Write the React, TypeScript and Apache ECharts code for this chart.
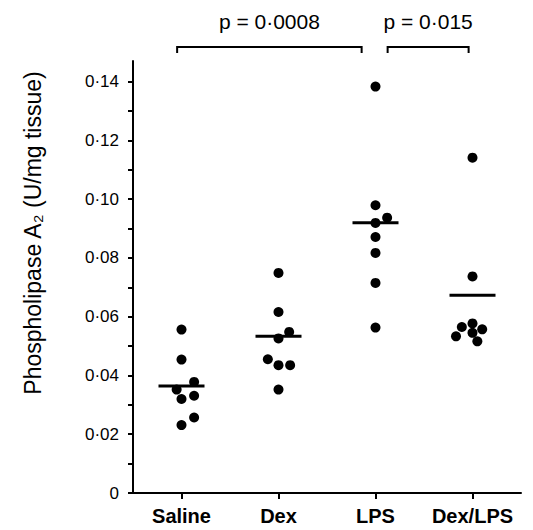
import React, { useEffect, useRef } from "react";
import * as echarts from "echarts";

const categories = ["Saline", "Dex", "LPS", "Dex/LPS"];

// [x offset within group (category units), value]
const salinePoints = [[0, 0.0556], [0, 0.0454], [0.13, 0.0378], [-0.05, 0.0352], [0.13, 0.0331], [0, 0.032], [0.13, 0.0257], [0, 0.0231]];
const dexPoints = [[0, 0.0749], [0, 0.0616], [0.11, 0.0548], [0, 0.0526], [-0.11, 0.0455], [0, 0.0435], [0.12, 0.0435], [0, 0.0352]];
const lpsPoints = [[0, 0.1383], [0, 0.0979], [0.12, 0.0937], [0, 0.0919], [0, 0.0871], [0, 0.0817], [0, 0.0715], [0, 0.0563]];
const dexLpsPoints = [[0, 0.1141], [0, 0.0737], [-0.11, 0.0565], [0, 0.0577], [0.1, 0.0557], [0, 0.0545], [-0.17, 0.0533], [0.05, 0.0516]];
const groupPoints = [salinePoints, dexPoints, lpsPoints, dexLpsPoints];

const meanValues = [0.0364, 0.0533, 0.092, 0.0673];

const bracketStarts = [-0.045, 2.125];
const bracketEnds = [1.857, 2.96];
const bracketLevel = 0.1518;
const bracketLabels = ["p = 0·0008", "p = 0·015"];

const yMin = 0;
const yMax = 0.147;
const yInterval = 0.01;

const FONT = "'Liberation Sans', Arial, Helvetica, sans-serif";

export default function App() {
  const ref = useRef<HTMLDivElement>(null);
  useEffect(() => {
    document.body.style.margin = "0";
    if (!ref.current) return;
    const chart = echarts.init(ref.current, null, { renderer: "svg" });

    const dotData: number[][] = [];
    groupPoints.forEach((pts, gi) => {
      pts.forEach(([dx, v]) => dotData.push([gi + dx, v]));
    });
    const meanData = meanValues.map((v, i) => [i, v]);
    const bracketData = bracketStarts.map((s, i) => [s, bracketEnds[i], bracketLevel]);

    chart.setOption({
      animation: false,
      backgroundColor: "#ffffff",
      textStyle: { fontFamily: FONT },
      grid: { left: 133, right: 12, top: 61, bottom: 37, containLabel: false },
      xAxis: [
        {
          type: "category",
          data: categories,
          boundaryGap: true,
          position: "bottom",
          axisLine: { show: true, onZero: false, lineStyle: { color: "#000", width: 2 } },
          axisTick: { show: true, alignWithLabel: true, length: 6, lineStyle: { color: "#000", width: 2 } },
          axisLabel: { color: "#000", fontSize: 20, fontWeight: "bold", margin: 13, interval: 0, fontFamily: FONT },
          splitLine: { show: false },
        },
        {
          type: "value",
          min: -0.5,
          max: 3.5,
          show: false,
          axisLine: { onZero: false },
          splitLine: { show: false },
        },
      ],
      yAxis: {
        type: "value",
        min: yMin,
        max: yMax,
        interval: yInterval,
        position: "left",
        axisLine: { show: true, onZero: false, lineStyle: { color: "#000", width: 2 } },
        axisTick: { show: true, length: 5, lineStyle: { color: "#000", width: 2 } },
        splitLine: { show: false },
        axisLabel: {
          color: "#000",
          fontSize: 17,
          margin: 14,
          fontFamily: FONT,
          showMaxLabel: false,
          formatter: (v: number) => {
            const k = v * 50;
            if (Math.abs(k - Math.round(k)) > 1e-6) return "";
            if (Math.abs(v) < 1e-9) return "0";
            return v.toFixed(2).replace(".", "·");
          },
        },
      },
      graphic: [
        {
          type: "text",
          x: 33,
          y: 233,
          rotation: Math.PI / 2,
          style: {
            text: "Phospholipase A₂ (U/mg tissue)",
            fill: "#000",
            fontSize: 23,
            fontFamily: FONT,
            textAlign: "center",
            textVerticalAlign: "middle",
          },
        },
      ],
      series: [
        {
          type: "scatter",
          xAxisIndex: 1,
          symbol: "circle",
          symbolSize: 10,
          itemStyle: { color: "#000", opacity: 1 },
          data: dotData,
          z: 3,
        },
        {
          type: "scatter",
          xAxisIndex: 1,
          symbol: "rect",
          symbolSize: [46, 3],
          itemStyle: { color: "#000", opacity: 1 },
          data: meanData,
          z: 4,
        },
        {
          type: "custom",
          xAxisIndex: 1,
          clip: false,
          encode: { x: [0, 1], y: 2 },
          data: bracketData,
          renderItem: (params: any, api: any) => {
            const p1 = api.coord([api.value(0), api.value(2)]);
            const p2 = api.coord([api.value(1), api.value(2)]);
            const y = p1[1];
            return {
              type: "group",
              children: [
                {
                  type: "polyline",
                  shape: { points: [[p1[0], y + 6], [p1[0], y], [p2[0], y], [p2[0], y + 6]] },
                  style: { stroke: "#000", lineWidth: 2, fill: "none" },
                },
                {
                  type: "text",
                  x: (p1[0] + p2[0]) / 2,
                  y: y - 25,
                  style: {
                    text: bracketLabels[params.dataIndex],
                    fill: "#000",
                    fontSize: 21,
                    fontFamily: FONT,
                    textAlign: "center",
                    textVerticalAlign: "middle",
                  },
                },
              ],
            };
          },
        },
      ],
    });
    return () => chart.dispose();
  }, []);
  return <div ref={ref} style={{ width: 533, height: 530 }} />;
}
